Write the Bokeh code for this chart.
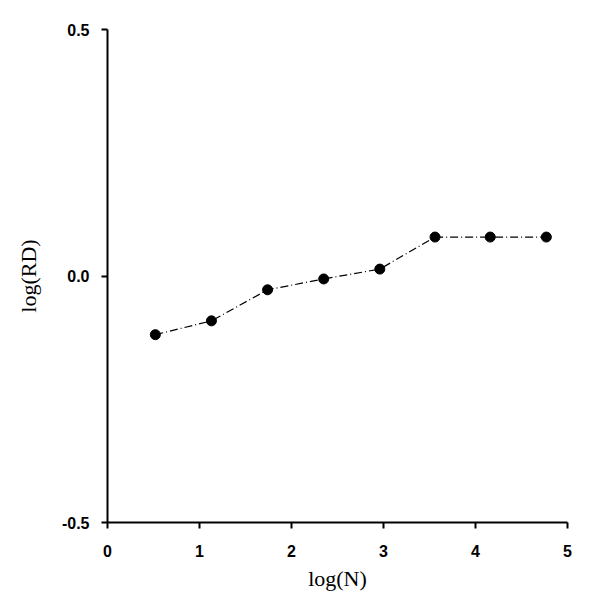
from bokeh.plotting import figure
from bokeh.models import FixedTicker, PrintfTickFormatter, Range1d
from bokeh.embed import file_html
from bokeh.resources import INLINE

log_n = [0.52, 1.13, 1.74, 2.35, 2.96, 3.56, 4.16, 4.77]
log_rd = [-0.119, -0.091, -0.028, -0.006, 0.014, 0.079, 0.079, 0.079]
x_ticks = [0, 1, 2, 3, 4, 5]
y_ticks = [-0.5, 0.0, 0.5]

p = figure(width=584, height=593, output_backend="svg", toolbar_location=None,
           x_range=Range1d(0, 5), y_range=Range1d(-0.5, 0.5),
           min_border_left=107, min_border_right=17, min_border_top=29, min_border_bottom=70)
p.outline_line_color = None
p.xgrid.visible = False
p.ygrid.visible = False

p.line(log_n, log_rd, line_color="black", line_width=1.2, line_dash="8 3 1 3")
p.scatter(log_n, log_rd, size=10, fill_color="black", line_color="black")

for ax in (p.xaxis[0], p.yaxis[0]):
    ax.axis_line_width = 2
    ax.axis_line_color = "black"
    ax.major_tick_line_width = 2
    ax.major_tick_line_color = "black"
    ax.minor_tick_line_color = None
    ax.major_tick_in = 0
    ax.major_tick_out = 6
    ax.major_label_text_font = "Liberation Sans"
    ax.major_label_text_font_style = "bold"
    ax.major_label_text_font_size = "16px"
    ax.major_label_text_color = "black"
    ax.axis_label_text_font = "Liberation Serif"
    ax.axis_label_text_font_style = "normal"
    ax.axis_label_text_font_size = "22px"
    ax.axis_label_text_color = "black"

p.xaxis.ticker = FixedTicker(ticks=x_ticks)
p.yaxis.ticker = FixedTicker(ticks=y_ticks)
p.yaxis.formatter = PrintfTickFormatter(format="%.1f")
p.xaxis.axis_label = "log(N)"
p.yaxis.axis_label = "log(RD)"
p.xaxis.major_label_standoff = 16
p.xaxis.axis_label_standoff = 6
p.yaxis.major_label_standoff = 12
p.yaxis.axis_label_standoff = 18

open("out.html", "w").write(file_html(p, INLINE))
